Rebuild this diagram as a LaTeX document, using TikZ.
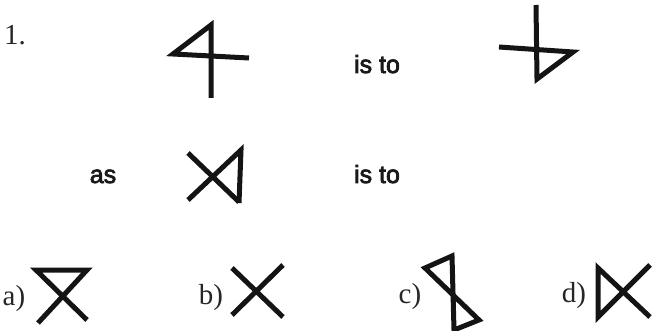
\documentclass[tikz,border=0pt]{standalone}
\usepackage{fontspec}
\newfontfamily\labsans[FakeBold=3]{Liberation Sans}
\newfontfamily\labserif{Liberation Serif}
\tikzset{
  glyph/.style={line width=5pt, line join=miter, line cap=butt, color=black!92},
  sanslab/.style={font=\labsans\fontsize{25}{25}\selectfont, inner sep=0pt, anchor=base, color=black!90},
  serlab/.style={font=\labserif\fontsize{29}{29}\selectfont, inner sep=0pt, anchor=base, color=black!85}
}
\begin{document}
\begin{tikzpicture}[x=1pt,y=-1pt]
\useasboundingbox (0,0) rectangle (653,331);
% labels
\node[serlab] (n1) at (15,45) {1.};
\node[sanslab] (is1) at (377,73) {is to};
\node[sanslab] (as) at (103,183) {as};
\node[sanslab] (is2) at (377,183) {is to};
\node[serlab] (la) at (14,305) {a)};
\node[serlab] (lb) at (211,304) {b)};
\node[serlab] (lc) at (410,303) {c)};
\node[serlab] (ld) at (574,302) {d)};
% shape 1
\draw[glyph] (249,58) -- (173,54) -- (211,25) -- (211,98);
% shape 2
\draw[glyph] (536,5) -- (537,79) -- (573,52) -- (499,47);
% shape 3
\draw[glyph] (188,200) -- (241,150) -- (239,203);
\draw[glyph] (188,153) -- (239,202);
% a)
\draw[glyph] (38,323) -- (87,270) -- (36,270) -- (87,320);
% b)
\draw[glyph] (232,268) -- (283,317);
\draw[glyph] (232,315) -- (283,265);
% c)
\draw[glyph] (479,320) -- (425,268) -- (452,256) -- (454,330) -- cycle;
% d)
\draw[glyph] (650,265) -- (598,317) -- (598,268) -- (650,317);
\end{tikzpicture}
\end{document}
